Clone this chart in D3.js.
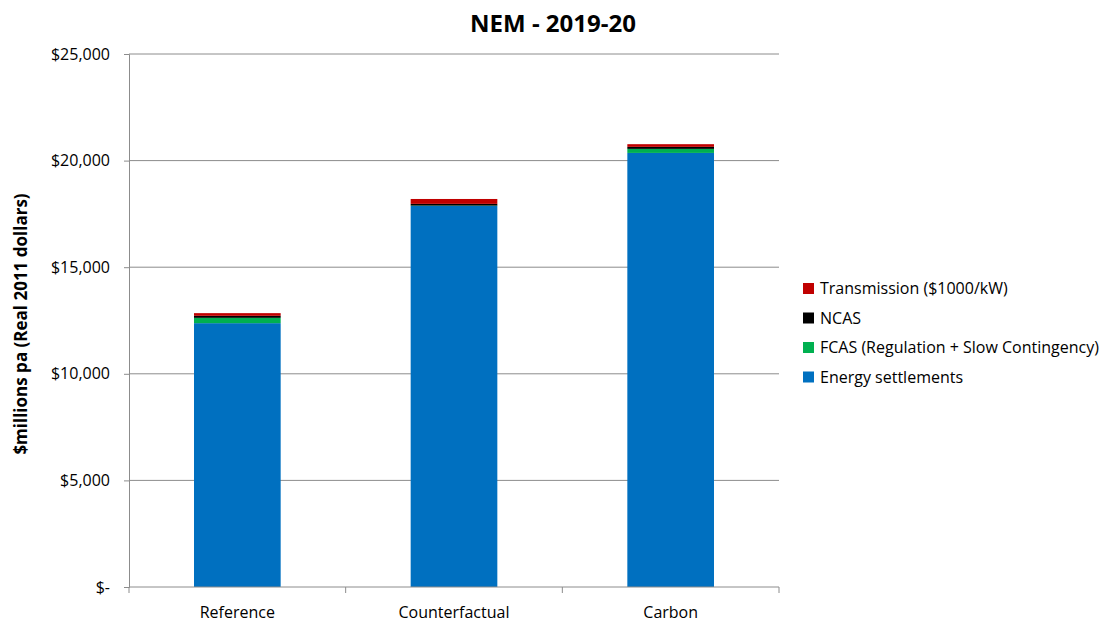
<!DOCTYPE html>
<html lang="en">
<head>
  <meta charset="utf-8">
  <script src="https://d3js.org/d3.v7.min.js"></script>
  <style>
    body { margin: 0; background: #fff; }
    text { font-family: "Open Sans", "Noto Sans", sans-serif; fill: #000; }
  </style>
</head>
<body>
<div id="chart"></div>
<script>

// data ($ millions pa)
var scenarios = ["Reference", "Counterfactual", "Carbon"];
var energy = [12375, 17870, 20360];
var fcas = [250, 20, 190];
var ncas = [95, 80, 95];
var transmission = [125, 230, 125];

var seriesNames = ["Energy settlements", "FCAS (Regulation + Slow Contingency)", "NCAS", "Transmission ($1000/kW)"];
var seriesColors = ["#0070C0", "#00B050", "#000000", "#C00000"];
var yTicks = [0, 5000, 10000, 15000, 20000, 25000];

var W = 1105, H = 621;
var margin = {top: 54, right: 326, bottom: 34, left: 129};
var width = W - margin.left - margin.right,
    height = H - margin.top - margin.bottom;

var svg = d3.select("#chart").append("svg")
  .attr("width", W)
  .attr("height", H);

var g = svg.append("g")
  .attr("transform", "translate(" + margin.left + "," + margin.top + ")");

var rows = scenarios.map(function(s, i) {
  return {scenario: s, e: energy[i], f: fcas[i], n: ncas[i], t: transmission[i]};
});
var stack = d3.stack().keys(["e", "f", "n", "t"])(rows);

var x = d3.scaleBand()
  .domain(scenarios)
  .range([0, width])
  .paddingInner(0.6)
  .paddingOuter(0.3);

var y = d3.scaleLinear()
  .domain([0, 25000])
  .range([height, 0]);

// gridlines
g.selectAll(".grid")
  .data(yTicks.slice(1))
  .enter().append("line")
  .attr("x1", 0).attr("x2", width)
  .attr("y1", function(d) { return y(d); })
  .attr("y2", function(d) { return y(d); })
  .attr("stroke", "#8c8c8c")
  .attr("stroke-width", 1);

// bars
g.selectAll(".layer")
  .data(stack)
  .enter().append("g")
  .attr("fill", function(d, i) { return seriesColors[i]; })
  .selectAll("rect")
  .data(function(d) { return d; })
  .enter().append("rect")
  .attr("x", function(d) { return x(d.data.scenario); })
  .attr("y", function(d) { return y(d[1]); })
  .attr("width", x.bandwidth())
  .attr("height", function(d) { return y(d[0]) - y(d[1]); });

// y axis
var fmt = d3.format(",");
var yAxis = g.append("g")
  .call(d3.axisLeft(y).tickValues(yTicks).tickSize(5)
    .tickFormat(function(d) { return d === 0 ? "$-" : "$" + fmt(d); }));
yAxis.select(".domain").attr("stroke", "#8c8c8c");
yAxis.selectAll(".tick line").attr("stroke", "#8c8c8c");
yAxis.selectAll(".tick text")
  .attr("x", -19)
  .style("font-size", "16px")
  .style("font-family", "'Open Sans', sans-serif");

// x axis with boundary ticks
var xAxis = g.append("g")
  .attr("transform", "translate(0," + height + ")");
xAxis.append("line")
  .attr("x1", 0).attr("x2", width)
  .attr("stroke", "#8c8c8c");
var step = width / scenarios.length;
xAxis.selectAll(".bt")
  .data(d3.range(scenarios.length + 1))
  .enter().append("line")
  .attr("x1", function(d) { return d * step; })
  .attr("x2", function(d) { return d * step; })
  .attr("y1", 0).attr("y2", 6)
  .attr("stroke", "#8c8c8c");
xAxis.selectAll(".lbl")
  .data(scenarios)
  .enter().append("text")
  .attr("x", function(d) { return x(d) + x.bandwidth() / 2; })
  .attr("y", 31)
  .attr("text-anchor", "middle")
  .style("font-size", "16px")
  .text(function(d) { return d; });

// title
svg.append("text")
  .attr("x", 553)
  .attr("y", 32)
  .attr("text-anchor", "middle")
  .style("font-size", "24px")
  .style("font-weight", "bold")
  .text("NEM - 2019-20");

// y label
svg.append("text")
  .attr("transform", "translate(27," + 324 + ") rotate(-90)")
  .attr("text-anchor", "middle")
  .style("font-size", "17px")
  .style("font-weight", "bold")
  .text("$millions pa (Real 2011 dollars)");

// legend (top to bottom: reversed stack order)
var legend = svg.append("g").attr("transform", "translate(803,283)");
var legendOrder = [3, 2, 1, 0];
legendOrder.forEach(function(k, i) {
  var row = legend.append("g").attr("transform", "translate(0," + (i * 29.5) + ")");
  row.append("rect")
    .attr("width", 11).attr("height", 11)
    .attr("fill", seriesColors[k]);
  row.append("text")
    .attr("x", 17)
    .attr("y", 11)
    .style("font-size", "16px")
    .text(seriesNames[k]);
});

</script>
</body>
</html>
